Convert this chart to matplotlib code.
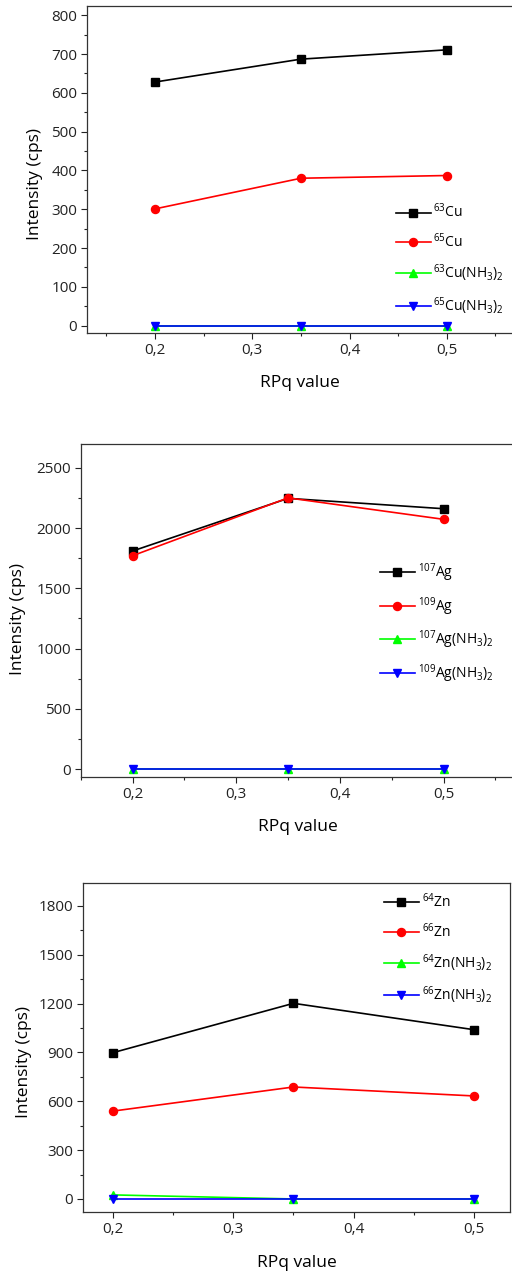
import matplotlib
matplotlib.use('Agg')
import matplotlib.pyplot as plt
from matplotlib.ticker import MultipleLocator, FuncFormatter

plt.rcParams['font.family'] = ['Open Sans', 'DejaVu Sans']
plt.rcParams['mathtext.fontset'] = 'custom'
plt.rcParams['mathtext.rm'] = 'Open Sans'
plt.rcParams['mathtext.it'] = 'Open Sans'

# data
rpq = [0.2, 0.35, 0.5]

cu_labels = ['$^{63}$Cu', '$^{65}$Cu', '$^{63}$Cu(NH$_3$)$_2$', '$^{65}$Cu(NH$_3$)$_2$']
cu_63 = [628, 687, 711]
cu_65 = [301, 380, 387]
cu_63_nh3 = [0, 0, 0]
cu_65_nh3 = [0, 0, 0]

ag_labels = ['$^{107}$Ag', '$^{109}$Ag', '$^{107}$Ag(NH$_3$)$_2$', '$^{109}$Ag(NH$_3$)$_2$']
ag_107 = [1809, 2246, 2160]
ag_109 = [1770, 2250, 2072]
ag_107_nh3 = [0, 0, 0]
ag_109_nh3 = [0, 0, 0]

zn_labels = ['$^{64}$Zn', '$^{66}$Zn', '$^{64}$Zn(NH$_3$)$_2$', '$^{66}$Zn(NH$_3$)$_2$']
zn_64 = [899, 1202, 1040]
zn_66 = [540, 688, 633]
zn_64_nh3 = [25, 0, 0]
zn_66_nh3 = [0, 0, 0]

colors = ['#000000', '#ff0000', '#00ff00', '#0000ff']
markers = ['s', 'o', '^', 'v']
msizes = [5.2, 5.8, 5.8, 5.8]

W, H = 512, 1275
fig = plt.figure(figsize=(W / 100, H / 100), dpi=100)

comma = FuncFormatter(lambda v, p: ('%.1f' % v).replace('.', ','))


def panel(box, series, labels, xlim, ylim, ymaj, ymin, leg_xy, ylab_xy, xlab_xy, right_spine):
    l, t, r, b = box
    ax = fig.add_axes([l / W, 1 - b / H, (r - l) / W, (b - t) / H])
    for ys, lab, c, m, ms in zip(series, labels, colors, markers, msizes):
        ax.plot(rpq, ys, color=c, marker=m, markersize=ms, lw=1.2, label=lab)
    ax.set_xlim(*xlim)
    ax.set_ylim(*ylim)
    ax.xaxis.set_major_locator(MultipleLocator(0.1))
    ax.xaxis.set_minor_locator(MultipleLocator(0.05))
    ax.xaxis.set_major_formatter(comma)
    ax.yaxis.set_major_locator(MultipleLocator(ymaj))
    ax.yaxis.set_minor_locator(MultipleLocator(ymin))
    ax.tick_params(which='major', direction='out', length=4.5, width=0.8, labelsize=11,
                   colors='#222222', pad=2.5)
    ax.tick_params(which='minor', direction='out', length=2.5, width=0.8, colors='#222222')
    for s in ax.spines.values():
        s.set_linewidth(0.9)
        s.set_color('#333333')
    ax.spines['right'].set_visible(right_spine)
    ax.set_ylabel('Intensity (cps)', fontsize=12.5)
    ax.set_xlabel('RPq value', fontsize=12.5)
    ax.yaxis.label.set_va('center')
    ax.xaxis.label.set_va('center')
    ax.yaxis.set_label_coords(*ylab_xy)
    ax.xaxis.set_label_coords(*xlab_xy)
    ax.legend(loc='upper left', bbox_to_anchor=leg_xy, frameon=False, fontsize=10,
              handlelength=2.5, handletextpad=0.2, labelspacing=0.8, borderpad=0,
              borderaxespad=0)
    return ax


panel((87, 6, 512, 333), [cu_63, cu_65, cu_63_nh3, cu_65_nh3], cu_labels,
      (0.130, 0.567), (-19, 824), 100, 50, (0.727, 0.398), (-0.122, 0.456), (0.50, -0.153), False)

panel((80.7, 444, 512, 777), [ag_107, ag_109, ag_107_nh3, ag_109_nh3], ag_labels,
      (0.150, 0.566), (-66, 2697), 500, 250, (0.694, 0.648), (-0.145, 0.474), (0.504, -0.15), False)

panel((83, 882.7, 510, 1212), [zn_64, zn_66, zn_64_nh3, zn_66_nh3], zn_labels,
      (0.175, 0.530), (-80, 1943), 300, 150, (0.705, 0.97), (-0.138, 0.456), (0.50, -0.155), True)

fig.savefig('out.png', dpi=100)
